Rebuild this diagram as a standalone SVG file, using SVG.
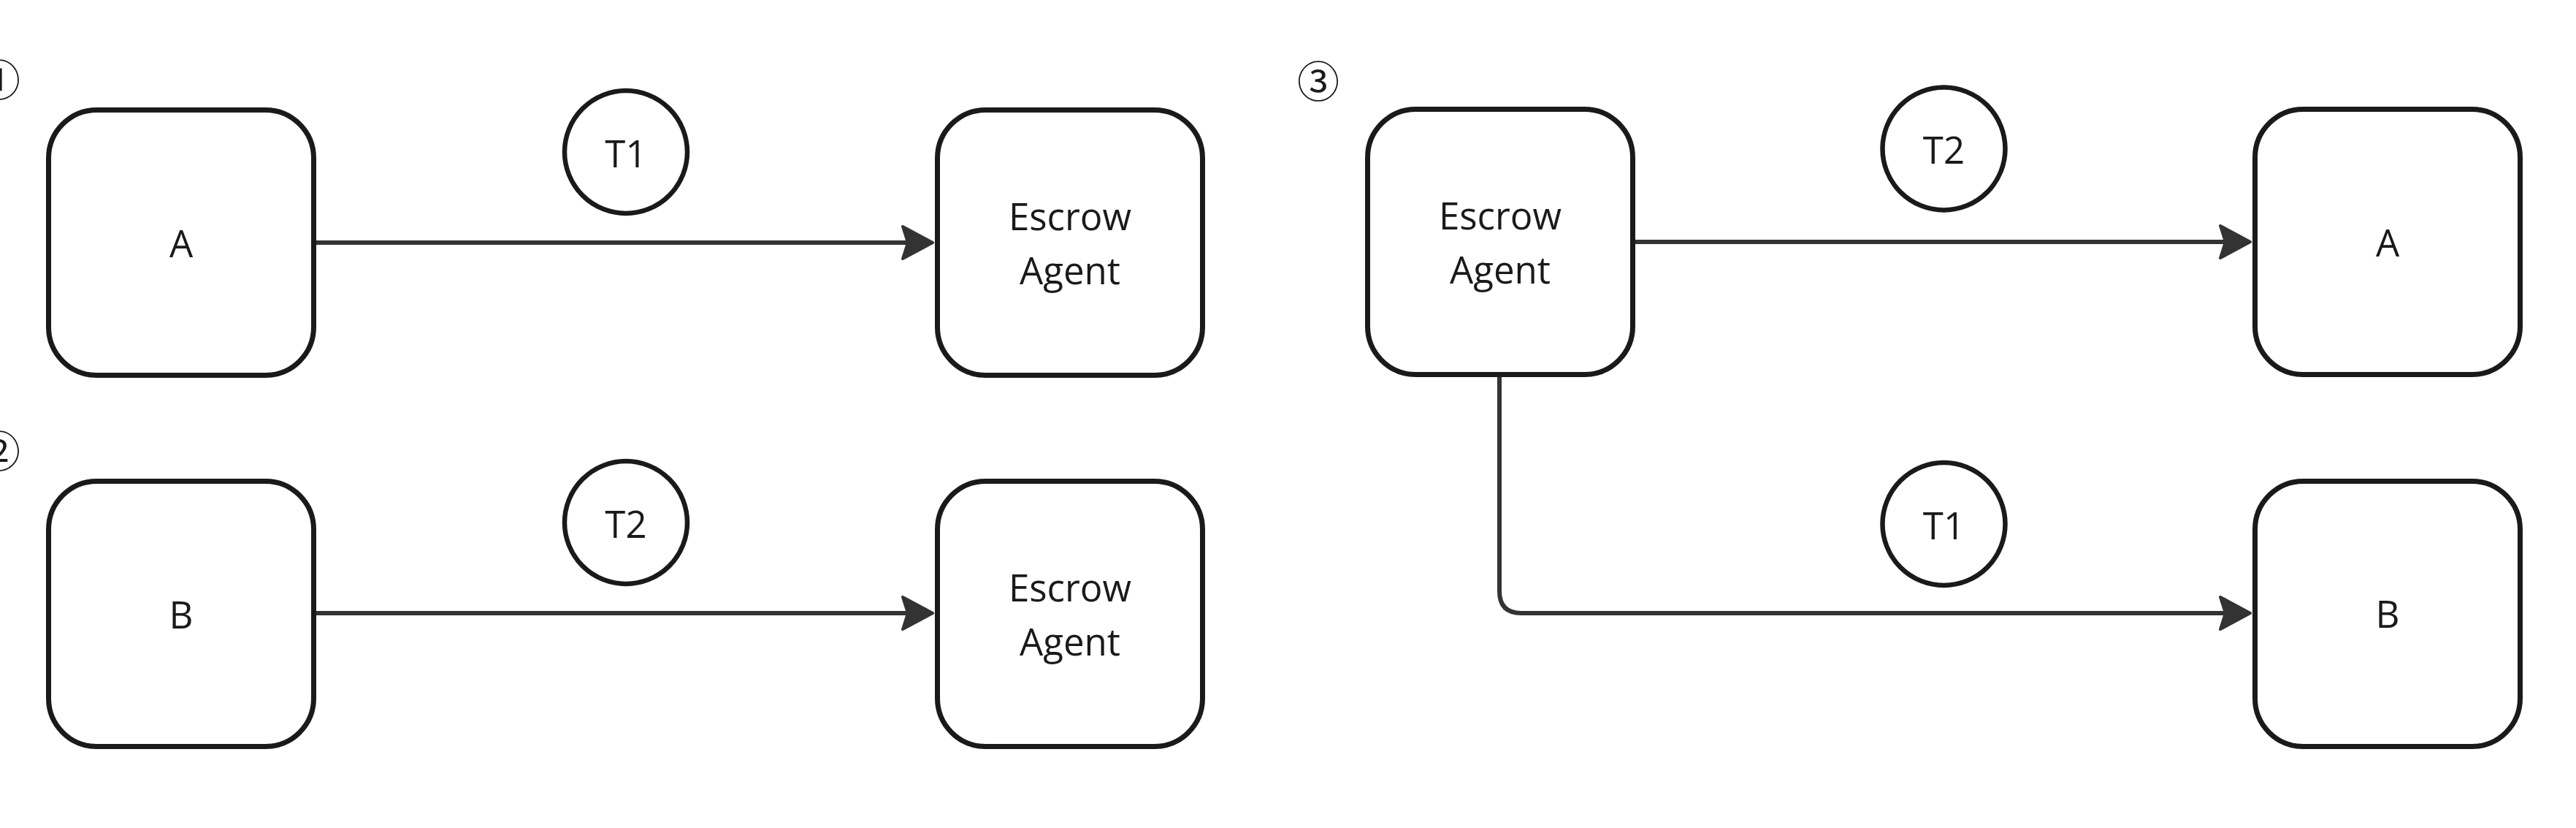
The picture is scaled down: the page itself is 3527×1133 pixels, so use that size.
<svg xmlns="http://www.w3.org/2000/svg" width="3527" height="1133" viewBox="0 0 3527 1133">
  <defs>
    <style>
      .box { fill: #ffffff; stroke: #1a1a1a; stroke-width: 7; }
      .tok { fill: #ffffff; stroke: #1a1a1a; stroke-width: 6.5; }
      .lbl { font-family: "Open Sans", "Noto Sans", sans-serif; font-size: 51px; fill: #1a1a1a; text-anchor: middle; }
      .num { font-family: "Noto Sans CJK JP", "Noto Sans", sans-serif; font-size: 58px; fill: #1a1a1a; text-anchor: middle; }
      .conn { fill: none; stroke: #333333; stroke-width: 6; }
    </style>
    <marker id="arrow" markerUnits="userSpaceOnUse" viewBox="-12 -28 52 56" refX="0" refY="0" markerWidth="52" markerHeight="56" orient="auto">
      <path d="M 34 0 L -7 -22 L 0 0 L -7 22 Z" fill="#333333" stroke="#333333" stroke-width="4" stroke-linejoin="round"/>
    </marker>
  </defs>
  <rect width="3527" height="1133" fill="#ffffff"/>

  <g id="panel-labels">
    <text class="num" x="-1" y="131">①</text>
    <text class="num" x="-1" y="639">②</text>
    <text class="num" x="1805" y="133">③</text>
  </g>

  <g id="connectors">
    <path class="conn" d="M 433 332 H 1243" marker-end="url(#arrow)"/>
    <path class="conn" d="M 433 839 H 1243" marker-end="url(#arrow)"/>
    <path class="conn" d="M 2238 331 H 3047" marker-end="url(#arrow)"/>
    <path class="conn" d="M 2053 516 V 809 Q 2053 839 2083 839 H 3047" marker-end="url(#arrow)"/>
  </g>

  <g id="node-a1">
    <rect class="box" x="66.5" y="150.5" width="363" height="363" rx="66"/>
    <text class="lbl" x="248" y="352">A</text>
  </g>
  <g id="node-escrow1">
    <rect class="box" x="1283.5" y="150.5" width="363" height="363" rx="66"/>
    <text class="lbl" x="1465" y="315">Escrow</text>
    <text class="lbl" x="1465" y="389">Agent</text>
  </g>
  <g id="token-t1-p1">
    <circle class="tok" cx="857" cy="208" r="84"/>
    <text class="lbl" x="857" y="228.5">T1</text>
  </g>

  <g id="node-b2">
    <rect class="box" x="66.5" y="658.5" width="363" height="363" rx="66"/>
    <text class="lbl" x="248" y="859.5">B</text>
  </g>
  <g id="node-escrow2">
    <rect class="box" x="1283.5" y="658.5" width="363" height="363" rx="66"/>
    <text class="lbl" x="1465" y="823">Escrow</text>
    <text class="lbl" x="1465" y="897">Agent</text>
  </g>
  <g id="token-t2-p2">
    <circle class="tok" cx="857" cy="715" r="84"/>
    <text class="lbl" x="857" y="735.5">T2</text>
  </g>

  <g id="node-escrow3">
    <rect class="box" x="1872.5" y="149.5" width="363" height="363" rx="66"/>
    <text class="lbl" x="2054" y="314">Escrow</text>
    <text class="lbl" x="2054" y="388">Agent</text>
  </g>
  <g id="node-a3">
    <rect class="box" x="3087.5" y="149.5" width="363" height="363" rx="66"/>
    <text class="lbl" x="3269" y="351">A</text>
  </g>
  <g id="node-b3">
    <rect class="box" x="3087.5" y="658.5" width="363" height="363" rx="66"/>
    <text class="lbl" x="3269" y="859">B</text>
  </g>
  <g id="token-t2-p3">
    <circle class="tok" cx="2661.5" cy="203.5" r="84"/>
    <text class="lbl" x="2661.5" y="224">T2</text>
  </g>
  <g id="token-t1-p3">
    <circle class="tok" cx="2661.5" cy="717" r="84"/>
    <text class="lbl" x="2661.5" y="737.5">T1</text>
  </g>
</svg>
